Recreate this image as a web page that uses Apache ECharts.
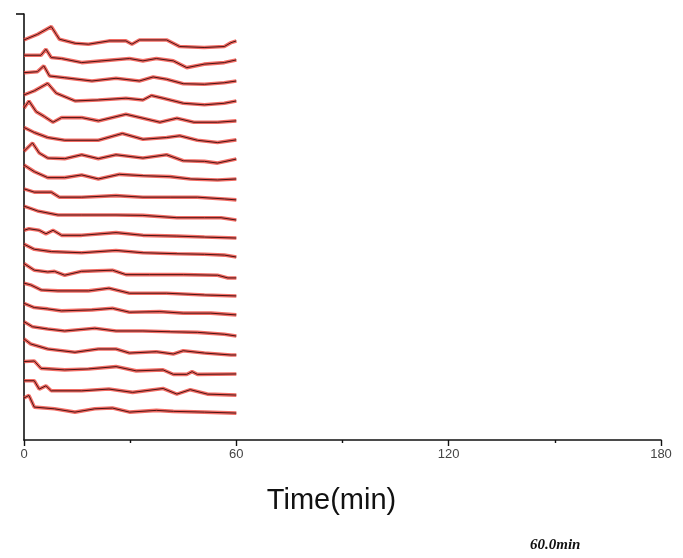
<!DOCTYPE html>
<html>
<head>
<meta charset="utf-8">
<script src="https://cdn.jsdelivr.net/npm/echarts@6/dist/echarts.min.js"></script>
<style>
  html, body { margin: 0; padding: 0; background: #fff; }
  #chart { width: 683px; height: 558px; }
</style>
</head>
<body>
<div id="chart"></div>
<script>
// Time axis ticks (minutes)
const xTicks = [0, 60, 120, 180];

// Vertical offset of each stacked trace (bottom trace first), in axis units
const baselines = [1.39, 2.32, 3.41, 4.39, 5.37, 6.46, 7.44, 8.37, 9.45, 10.43,
                   11.36, 12.40, 13.48, 14.51, 15.50, 16.48, 17.51, 18.54, 19.63, 20.61];

// Each trace: [time (min), signal relative to its offset]; listed bottom to top
const trace01 = [[0,0.78],[1.4,0.91],[2.9,0.31],[8.6,0.22],[14.4,0.05],[20,0.22],[25,0.26],[29.8,0.05],[37.4,0.14],[42.2,0.09],[51,0.05],[60,0]];
const trace02 = [[0,0.74],[2.9,0.74],[4.3,0.31],[6.2,0.48],[7.7,0.22],[16.3,0.22],[24,0.31],[30.7,0.14],[39.3,0.34],[43.2,0.05],[47,0.28],[51.8,0.05],[60,0]];
const trace03 = [[0,0.64],[2.9,0.67],[4.8,0.29],[11.5,0.21],[18.2,0.26],[26,0.38],[31.7,0.16],[39.3,0.21],[42.2,-0.02],[46,-0.02],[47.5,0.12],[49,-0.02],[60,0]];
const trace04 = [[0,0.83],[1.9,0.57],[6.7,0.31],[14.4,0.14],[21,0.31],[26,0.31],[29.8,0.10],[37.4,0.17],[42.2,0.05],[45,0.22],[51,0.10],[58.5,0],[60,0]];
const trace05 = [[0,0.74],[2.4,0.48],[6.7,0.36],[11.5,0.26],[20,0.40],[26,0.26],[33.6,0.26],[41.3,0.22],[49,0.19],[56.6,0.09],[60,0]];
const trace06 = [[0,0.60],[2.9,0.38],[6.7,0.31],[10.6,0.21],[19.2,0.26],[25,0.34],[29.8,0.14],[38.4,0.17],[45,0.09],[52.8,0.09],[60,0]];
const trace07 = [[0,0.66],[1.9,0.57],[4.8,0.31],[9.6,0.26],[18.2,0.26],[24,0.40],[29.8,0.14],[40.3,0.14],[51,0.05],[60,0]];
const trace08 = [[0,0.74],[2.9,0.40],[6.7,0.31],[8.6,0.34],[11.5,0.14],[16.3,0.34],[25,0.40],[28.8,0.17],[35.5,0.17],[45,0.17],[54.7,0.14],[57.6,0],[60,0]];
const trace09 = [[0,0.66],[2.9,0.40],[7.7,0.28],[16.3,0.22],[26,0.34],[33.6,0.22],[43.2,0.17],[51,0.14],[56.6,0.10],[60,0]];
const trace10 = [[0,0.40],[1.4,0.48],[4.3,0.40],[6.2,0.22],[8.2,0.40],[10.6,0.14],[16.3,0.14],[26,0.28],[33.6,0.14],[43.2,0.10],[51,0.05],[60,0]];
const trace11 = [[0,0.72],[3.8,0.47],[9.6,0.26],[16.3,0.26],[26,0.26],[33.6,0.24],[43.2,0.12],[51,0.12],[55.7,0.12],[60,0]];
const trace12 = [[0,0.57],[2.9,0.40],[7.7,0.40],[10,0.14],[16.3,0.14],[26,0.22],[33.6,0.14],[41.3,0.14],[49,0.14],[56.6,0.05],[60,0]];
const trace13 = [[0,0.72],[2.9,0.38],[6.7,0.07],[11.5,0.07],[16.3,0.21],[21,0],[27,0.24],[33.6,0.17],[41.3,0.12],[47,0],[54.7,-0.05],[60,0]];
const trace14 = [[0,0.40],[2.4,0.83],[4.3,0.31],[6.7,0.05],[11.5,0.02],[16.3,0.22],[21,0.02],[26,0.22],[33.6,0.05],[40.3,0.22],[45,-0.09],[51,-0.12],[54.7,-0.21],[60,0]];
const trace15 = [[0,0.64],[2.9,0.38],[6.7,0.12],[11.5,-0.02],[21,-0.02],[27.8,0.33],[33.6,0.03],[40.3,0.12],[44,0.21],[49,-0.02],[54.7,-0.14],[60,0]];
const trace16 = [[0,0.66],[1.4,1.03],[3.4,0.48],[5.8,0.22],[8.2,-0.07],[10.6,0.17],[16.3,0.17],[21,0],[28.8,0.34],[33.6,0.14],[38.4,-0.07],[43.2,0.14],[48,-0.07],[54.7,-0.07],[60,0]];
const trace17 = [[0,0.31],[2.9,0.52],[6.7,0.91],[9.1,0.40],[14.4,0],[21,0.05],[28.8,0.14],[33.6,0.05],[36,0.28],[39.3,0.14],[45,-0.12],[51,-0.20],[56.6,-0.12],[60,0]];
const trace18 = [[0,0.43],[3.8,0.48],[5.6,0.78],[7.2,0.26],[11.5,0.17],[19.2,0],[26,0.14],[32.6,0],[36.5,0.21],[40.3,0.09],[45,-0.14],[51,-0.17],[56.6,-0.09],[60,0]];
const trace19 = [[0,0.24],[4.8,0.24],[6.2,0.55],[7.7,0.12],[10.6,0.07],[16.3,-0.14],[22,-0.05],[29.8,0.07],[33.6,-0.05],[37.4,0.07],[42.2,-0.05],[46,-0.40],[50.9,-0.22],[56.6,-0.14],[60,0]];
const trace20 = [[0,0.05],[3.8,0.34],[7.7,0.74],[9.1,0.34],[10,0.09],[14.4,-0.12],[18.2,-0.17],[24,0],[28.8,0],[30.5,-0.17],[32.6,0.05],[40.3,0.05],[44,-0.29],[50.9,-0.34],[56.6,-0.29],[58.5,-0.09],[60,0]];

const traces = [trace01, trace02, trace03, trace04, trace05, trace06, trace07, trace08, trace09, trace10,
                trace11, trace12, trace13, trace14, trace15, trace16, trace17, trace18, trace19, trace20];

const yMax = 22;

const series = [];
traces.forEach((tr, i) => {
  const pts = tr.map(p => [p[0], baselines[i] + p[1]]);
  // red halo underneath
  series.push({
    type: 'line', data: pts, showSymbol: false, silent: true, animation: false,
    lineStyle: { color: '#ec3b30', width: 3.6, opacity: 0.75 }
  });
  // dark core line
  series.push({
    type: 'line', data: pts, showSymbol: false, silent: true, animation: false,
    lineStyle: { color: '#4a1414', width: 1 }
  });
});

const chart = echarts.init(document.getElementById('chart'), null, { renderer: 'canvas' });
chart.setOption({
  backgroundColor: '#ffffff',
  animation: false,
  grid: { left: 24, right: 22, top: 14, bottom: 118, containLabel: false },
  xAxis: {
    type: 'value', min: 0, max: 180, interval: 60,
    name: 'Time(min)', nameLocation: 'middle', nameGap: 46,
    nameTextStyle: {
      fontFamily: 'Liberation Sans, Arial, sans-serif', fontSize: 29, color: '#111',
      padding: [0, 22, 0, 0]
    },
    axisLine: { show: true, onZero: false, lineStyle: { color: '#111', width: 1.6 } },
    axisTick: { show: true, length: 6, inside: false, lineStyle: { color: '#111', width: 1.4 } },
    minorTick: { show: true, splitNumber: 2, length: 3, lineStyle: { color: '#111', width: 1.4 } },
    axisLabel: {
      margin: 8, fontFamily: 'Liberation Sans, Arial, sans-serif', fontSize: 13, color: '#444',
      customValues: xTicks, formatter: v => String(v)
    },
    splitLine: { show: false }
  },
  yAxis: {
    type: 'value', min: 0, max: yMax,
    axisLine: { show: true, lineStyle: { color: '#111', width: 1.6 } },
    axisTick: { show: true, length: 8, customValues: [yMax], lineStyle: { color: '#111', width: 1.6 } },
    axisLabel: { show: false },
    splitLine: { show: false }
  },
  graphic: [{
    type: 'text', left: 530, top: 538,
    style: {
      text: '60.0min', fill: '#111',
      font: 'italic bold 15px "Liberation Serif", "Times New Roman", serif'
    }
  }],
  series: series
});
</script>
</body>
</html>
